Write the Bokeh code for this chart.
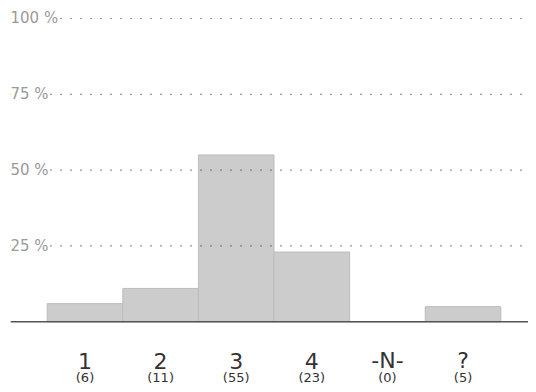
from bokeh.plotting import figure
from bokeh.models import ColumnDataSource, Range1d, Span, Label
from bokeh.core.properties import value
from bokeh.embed import file_html
from bokeh.resources import INLINE

categories = ["1", "2", "3", "4", "-N-", "?"]
counts = [6, 11, 55, 23, 0, 5]
grid_values = [25, 50, 75, 100]
grid_labels = ["25 %", "50 %", "75 %", "100 %"]

total = sum(counts)
pct = [c / total * 100 for c in counts]
xs = list(range(1, len(categories) + 1))

src = ColumnDataSource(dict(
    x=xs, top=pct, cat=categories,
    cnt=["(%d)" % c for c in counts],
))

p = figure(width=528, height=384, output_backend="svg", toolbar_location=None,
           x_range=Range1d(0.0146, 6.866), y_range=Range1d(-20.67, 105.93),
           min_border_left=10, min_border_right=0, min_border_top=0, min_border_bottom=0)
p.axis.visible = False
p.xgrid.visible = False
p.ygrid.visible = False
p.outline_line_color = None
p.background_fill_color = "white"

# dotted grid lines
for gv in grid_values:
    p.add_layout(Span(location=gv, dimension="width", line_color="#333333",
                      line_width=1.2, line_dash="1 9"))

p.vbar(x="x", top="top", bottom=0, width=1, source=src,
       fill_color="#cccccc", line_color="#bdbdbd", line_width=1)

# baseline
p.add_layout(Span(location=0, dimension="width", line_color="#555555", line_width=1.5))

# y labels on white background (cover the dots)
for gv, gl in zip(grid_values, grid_labels):
    p.add_layout(Label(x=0.0146, y=gv, text=gl, text_font="DejaVu Sans",
                       text_font_size="15px", text_color="#9a9a9a",
                       text_align="left", text_baseline="middle",
                       background_fill_color="white", background_fill_alpha=1.0))

p.text(x="x", y=-12.76, text="cat", source=src, text_font=value("DejaVu Sans"),
       text_font_size="22px", text_color="#333333", text_align="center",
       text_baseline="alphabetic")
p.text(x="x", y=-18.36, text="cnt", source=src, text_font=value("DejaVu Sans"),
       text_font_size="13px", text_color="#333333", text_align="center",
       text_baseline="alphabetic")

open("out.html", "w").write(file_html(p, INLINE))
